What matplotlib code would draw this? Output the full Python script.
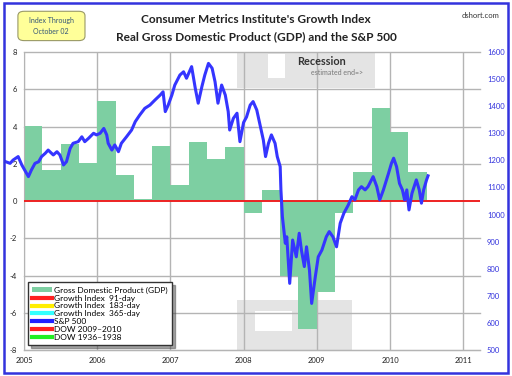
import matplotlib.pyplot as plt
from matplotlib.patches import Rectangle, FancyBboxPatch, Patch
from matplotlib.lines import Line2D

plt.rcParams['font.family'] = ['Lato', 'DejaVu Sans']

# ----------------------------------
# Data
# ----------------------------------
gdp_quarter = [2005.0, 2005.25, 2005.5, 2005.75,
               2006.0, 2006.25, 2006.5, 2006.75,
               2007.0, 2007.25, 2007.5, 2007.75,
               2008.0, 2008.25, 2008.5, 2008.75,
               2009.0, 2009.25, 2009.5, 2009.75,
               2010.0, 2010.25]
gdp_value = [4.05, 1.65, 3.08, 2.06,
             5.39, 1.40, 0.10, 2.97,
             0.86, 3.15, 2.26, 2.89,
             -0.66, 0.59, -4.0, -6.88,
             -4.9, -0.66, 1.58, 4.98,
             3.69, 1.58]

sp_year = [2004.75, 2004.81, 2004.85, 2004.92, 2004.97, 2005.01, 2005.06, 2005.10,
           2005.15, 2005.20, 2005.24, 2005.29, 2005.33, 2005.40, 2005.45, 2005.49,
           2005.54, 2005.58, 2005.63, 2005.67, 2005.74, 2005.79, 2005.83, 2005.88,
           2005.95, 2005.99, 2006.04, 2006.09, 2006.13, 2006.15, 2006.20, 2006.24,
           2006.29, 2006.33, 2006.40, 2006.47, 2006.52, 2006.58, 2006.65, 2006.72,
           2006.79, 2006.86, 2006.90, 2006.93, 2006.97, 2007.02, 2007.06, 2007.13,
           2007.18, 2007.22, 2007.29, 2007.34, 2007.38, 2007.43, 2007.47, 2007.52,
           2007.57, 2007.61, 2007.65, 2007.70, 2007.75, 2007.79, 2007.81, 2007.86,
           2007.91, 2007.95, 2008.00, 2008.04, 2008.09, 2008.13, 2008.18, 2008.22,
           2008.27, 2008.30, 2008.34, 2008.38, 2008.43, 2008.46, 2008.50, 2008.51,
           2008.53, 2008.57, 2008.59, 2008.63, 2008.67, 2008.72, 2008.76, 2008.79,
           2008.83, 2008.86, 2008.90, 2008.93, 2008.98, 2009.02, 2009.07, 2009.13,
           2009.17, 2009.22, 2009.27, 2009.32, 2009.37, 2009.43, 2009.48, 2009.52,
           2009.57, 2009.61, 2009.66, 2009.70, 2009.77, 2009.82, 2009.86, 2009.91,
           2009.98, 2010.02, 2010.05, 2010.09, 2010.13, 2010.17, 2010.20, 2010.23,
           2010.26, 2010.30, 2010.36, 2010.40, 2010.43, 2010.46, 2010.50, 2010.52]
sp_value = [1195, 1189, 1201, 1214, 1183, 1164, 1140, 1164,
            1189, 1195, 1214, 1226, 1238, 1220, 1232, 1220,
            1183, 1195, 1244, 1263, 1269, 1287, 1269, 1281,
            1300, 1294, 1300, 1318, 1294, 1263, 1238, 1257,
            1232, 1263, 1287, 1312, 1343, 1367, 1392, 1404,
            1423, 1441, 1453, 1380, 1404, 1441, 1478, 1515,
            1527, 1503, 1546, 1466, 1411, 1472, 1515, 1558,
            1540, 1490, 1411, 1478, 1441, 1380, 1312, 1355,
            1374, 1269, 1340, 1360, 1404, 1417, 1386, 1337,
            1275, 1214, 1263, 1294, 1263, 1214, 1177, 1091,
            992, 894, 918, 746, 906, 844, 931, 869,
            808, 881, 795, 672, 771, 844, 869, 918,
            937, 918, 881, 968, 1005, 1035, 1066, 1054,
            1091, 1103, 1091, 1103, 1140, 1103, 1054, 1091,
            1152, 1189, 1208, 1177, 1115, 1091, 1054, 1091,
            1017, 1078, 1128, 1091, 1042, 1091, 1128, 1143]

years = [2005, 2006, 2007, 2008, 2009, 2010, 2011]
left_ticks = [8, 6, 4, 2, 0, -2, -4, -6, -8]
right_ticks = [1600, 1500, 1400, 1300, 1200, 1100, 1000, 900, 800, 700, 600, 500]

legend_labels = ['Gross Domestic Product (GDP)', 'Growth Index  91-day',
                 'Growth Index  183-day', 'Growth Index  365-day', 'S&P 500',
                 'DOW 2009\u20132010', 'DOW 1936\u20131938']
legend_colors = ['#7dcfa2', '#ff2020', '#ffee00', '#33ffff', '#2020ff',
                 '#ff2020', '#22ee22']

# ----------------------------------
# Figure
# ----------------------------------
fig = plt.figure(figsize=(5.12, 3.76), dpi=100)
fig.patches.append(Rectangle((0.008, 0.008), 0.984, 0.984, transform=fig.transFigure,
                             fill=False, edgecolor='#3333dd', linewidth=1.8))

ax = fig.add_axes([0.0469, 0.0691, 0.8906, 0.7926])
ax.set_xlim(2005, 2011.23)
ax.set_ylim(-8, 8)

# recession shading
ax.add_patch(Rectangle((2007.91, 6.08), 1.89, 1.92, color='#e4e4e4', zorder=0, lw=0))
ax.add_patch(Rectangle((2008.34, 6.6), 0.22, 1.3, color='white', zorder=0, lw=0))
ax.add_patch(Rectangle((2007.91, -8), 1.57, 2.68, color='#e4e4e4', zorder=0, lw=0))
ax.add_patch(Rectangle((2008.16, -7.0), 0.50, 1.1, color='white', zorder=0, lw=0))

for yr in years:
    ax.axvline(yr, color='#b4b4b4', lw=1, zorder=1)
for v in left_ticks:
    if v != 0:
        ax.plot([2005, 2011.23], [v, v], color='#b4b4b4', lw=1, zorder=1, clip_on=False)

ax.bar(gdp_quarter, gdp_value, width=0.25, align='edge', color='#7dcfa2',
       edgecolor='none', zorder=2)
ax.axhline(0, color='#ee2222', lw=1.4, zorder=3)

for s in ['top', 'right']:
    ax.spines[s].set_visible(False)
for s in ['left', 'bottom']:
    ax.spines[s].set_color('#b4b4b4')
ax.set_xticks(years)
ax.set_xticklabels([str(y) for y in years])
ax.set_yticks(left_ticks)
ax.set_yticklabels([str(v) for v in left_ticks])
ax.tick_params(axis='both', length=0, labelsize=5.5, colors='#222222', pad=5)

ax2 = ax.twinx()
ax2.set_ylim(500, 1600)
ax2.set_yticks(right_ticks)
ax2.tick_params(axis='y', length=0, labelsize=5.5, colors='#3333dd', pad=5)
for s in ax2.spines.values():
    s.set_visible(False)
ax2.plot(sp_year, sp_value, color='#3535ff', lw=2.2, zorder=4, clip_on=False)

# legend
handles = [Patch(facecolor=legend_colors[0], edgecolor='none')]
handles += [Line2D([0], [0], color=c, lw=3) for c in legend_colors[1:]]
leg = ax2.legend(handles, legend_labels, loc='lower left',
                 bbox_to_anchor=(0.009, 0.017),
                 fontsize=6.0, frameon=True, fancybox=False, shadow=True,
                 handlelength=2.4, handleheight=0.6, labelspacing=0.1,
                 borderpad=0.5, handletextpad=0.2, borderaxespad=0)
leg.get_frame().set_edgecolor('#333333')
leg.get_frame().set_linewidth(1.0)
leg.set_zorder(10)

# recession text
ax.text(2008.73, 7.5, 'Recession', fontsize=7.8, fontweight='bold',
        color='#333333', ha='left', va='center', zorder=5)
ax.text(2008.92, 6.9, 'estimated end=>', fontsize=5, color='#777777',
        ha='left', va='center', zorder=5)

# titles
fig.text(0.5, 0.948, "Consumer Metrics Institute's Growth Index", ha='center',
         va='center', fontsize=8.6, fontweight='bold', color='#222222')
fig.text(0.5, 0.903, 'Real Gross Domestic Product (GDP) and the S&P 500', ha='center',
         va='center', fontsize=8.6, fontweight='bold', color='#222222')
fig.text(0.975, 0.96, 'dshort.com', ha='right', va='center', fontsize=5.5,
         color='#333333')

fig.patches.append(FancyBboxPatch((0.038, 0.895), 0.125, 0.072,
                                  boxstyle='round,pad=0.003,rounding_size=0.012',
                                  transform=fig.transFigure, facecolor='#ffff99',
                                  edgecolor='#999966', linewidth=0.8))
fig.text(0.1, 0.945, 'Index Through', ha='center', va='center', fontsize=5,
         color='#335577')
fig.text(0.1, 0.915, 'October 02', ha='center', va='center', fontsize=5,
         color='#335577')

fig.savefig('out.png', dpi=100)
